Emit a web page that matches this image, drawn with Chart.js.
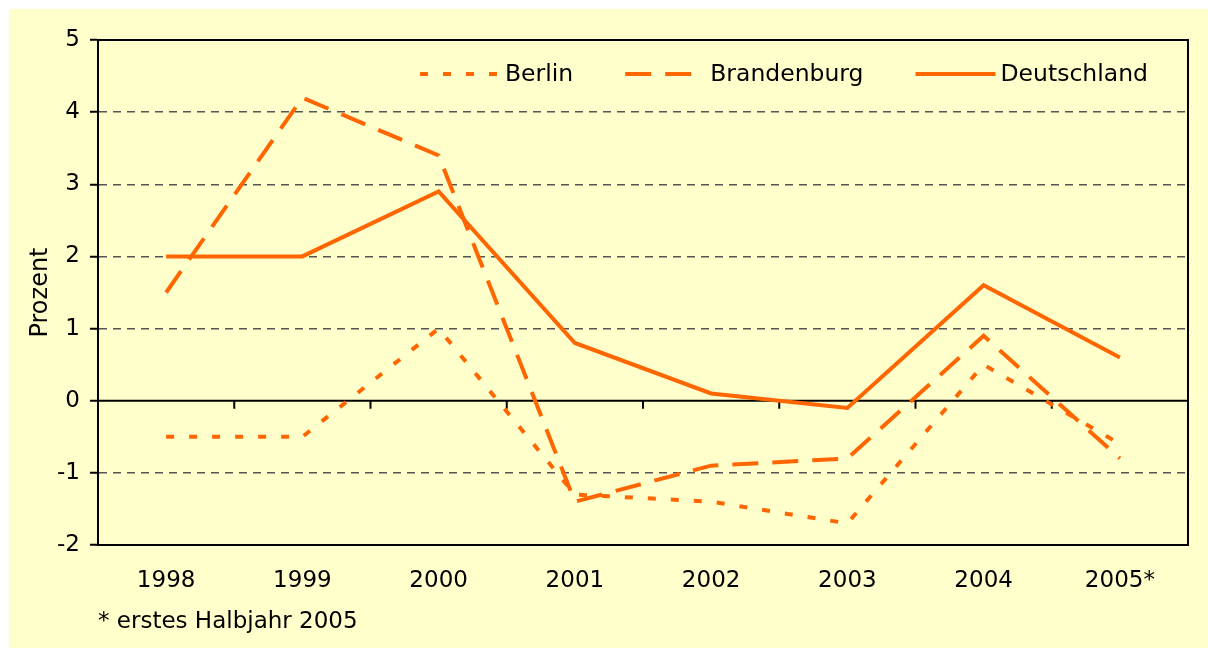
<!DOCTYPE html>
<html>
<head>
<meta charset="utf-8">
<script src="https://cdn.jsdelivr.net/npm/chart.js@4/dist/chart.umd.min.js"></script>
<style>
  body { margin: 0; background: white; }
  #wrap { width: 1208px; height: 648px; position: relative; }
</style>
</head>
<body>
<div id="wrap"><canvas id="growthChart"></canvas></div>
<script>
const years = ["1998", "1999", "2000", "2001", "2002", "2003", "2004", "2005*"];
const berlin = [-0.5, -0.5, 1.0, -1.3, -1.4, -1.7, 0.5, -0.6];
const brandenburg = [1.5, 4.2, 3.4, -1.4, -0.9, -0.8, 0.9, -0.8];
const deutschland = [2.0, 2.0, 2.9, 0.8, 0.1, -0.1, 1.6, 0.6];
const dashedGridValues = [-1, 1, 2, 3, 4];

const orange = "#FF6600";

Chart.defaults.font.family = "'DejaVu Sans', Verdana, sans-serif";
Chart.defaults.font.size = 23;
Chart.defaults.color = "#000";

// yellow panel behind everything
const panelBackground = {
  id: "panelBackground",
  beforeDraw(chart) {
    const ctx = chart.ctx;
    ctx.save();
    ctx.fillStyle = "#FFFFCC";
    ctx.fillRect(9, 9, chart.width - 9, chart.height - 9);
    ctx.restore();
  }
};

// box top/right, zero line with its tick marks
const frameAndZeroLine = {
  id: "frameAndZeroLine",
  beforeDatasetsDraw(chart) {
    const ctx = chart.ctx;
    const area = chart.chartArea;
    const x = chart.scales.x;
    const y = chart.scales.y;
    const zeroY = y.getPixelForValue(0);
    ctx.save();
    ctx.strokeStyle = "#000";
    ctx.lineWidth = 2;
    ctx.beginPath();
    ctx.moveTo(area.left, area.top);
    ctx.lineTo(area.right, area.top);
    ctx.lineTo(area.right, area.bottom);
    ctx.stroke();

    ctx.beginPath();
    ctx.moveTo(area.left, zeroY);
    ctx.lineTo(area.right, zeroY);
    const half = (x.getPixelForValue(1) - x.getPixelForValue(0)) / 2;
    for (let i = 0; i <= years.length; i++) {
      const bx = i < years.length ? x.getPixelForValue(i) - half : area.right;
      ctx.moveTo(bx, zeroY);
      ctx.lineTo(bx, zeroY + 8);
    }
    ctx.stroke();
    ctx.restore();
  }
};

// legend row inside the plot
const insideLegend = {
  id: "insideLegend",
  afterDatasetsDraw(chart) {
    const ctx = chart.ctx;
    const legendY = 74;
    let cursor = 420;
    ctx.save();
    ctx.font = "23.5px 'DejaVu Sans'";
    ctx.textBaseline = "middle";
    ctx.fillStyle = "#000";
    chart.data.datasets.forEach((ds) => {
      ctx.strokeStyle = ds.borderColor;
      ctx.lineWidth = 4;
      ctx.lineCap = "butt";
      ctx.setLineDash(ds.borderDash || []);
      ctx.beginPath();
      ctx.moveTo(cursor, legendY);
      ctx.lineTo(cursor + 80, legendY);
      ctx.stroke();
      ctx.setLineDash([]);
      ctx.fillText(ds.label, cursor + 85, legendY + 1);
      cursor += 85 + ctx.measureText(ds.label).width + 52;
    });
    ctx.restore();
  }
};

function buildDatasets() {
  return [
    { label: "Berlin", data: berlin, borderDash: [8, 15] },
    { label: "Brandenburg", data: brandenburg, borderDash: [26, 14] },
    { label: "Deutschland", data: deutschland, borderDash: [] }
  ].map((d) => Object.assign(d, {
    borderColor: orange,
    backgroundColor: orange,
    borderWidth: 4,
    borderCapStyle: "butt",
    borderJoinStyle: "miter",
    pointRadius: 0,
    tension: 0,
    fill: false
  }));
}

new Chart(document.getElementById("growthChart"), {
  type: "line",
  data: { labels: years, datasets: buildDatasets() },
  options: {
    responsive: true,
    maintainAspectRatio: false,
    animation: false,
    layout: { padding: { left: 20, right: 20, top: 40, bottom: 4 } },
    plugins: { legend: { display: false }, tooltip: { enabled: false } },
    scales: {
      x: {
        offset: true,
        grid: { display: false, drawTicks: false },
        border: { display: true, color: "#000", width: 2 },
        ticks: { padding: 22, maxRotation: 0, autoSkip: false },
        title: {
          display: true,
          text: "* erstes Halbjahr 2005",
          align: "start",
          padding: { top: 4, bottom: 8 }
        },
        afterFit(scale) { scale.height = 99; }
      },
      y: {
        min: -2,
        max: 5,
        ticks: { stepSize: 1, padding: 10 },
        grid: {
          color: (c) => c.tick && dashedGridValues.includes(c.tick.value) ? "#555555" : "rgba(0,0,0,0)",
          lineWidth: 1.5,
          tickColor: "#000",
          tickWidth: 2,
          tickLength: 8
        },
        border: { display: true, color: "#000", width: 2, dash: [8, 6] },
        title: { display: true, text: "Prozent", font: { size: 24 }, padding: { top: 6, bottom: 0 } },
        afterFit(scale) { scale.width = 78; }
      }
    }
  },
  plugins: [panelBackground, frameAndZeroLine, insideLegend]
});
</script>
</body>
</html>
